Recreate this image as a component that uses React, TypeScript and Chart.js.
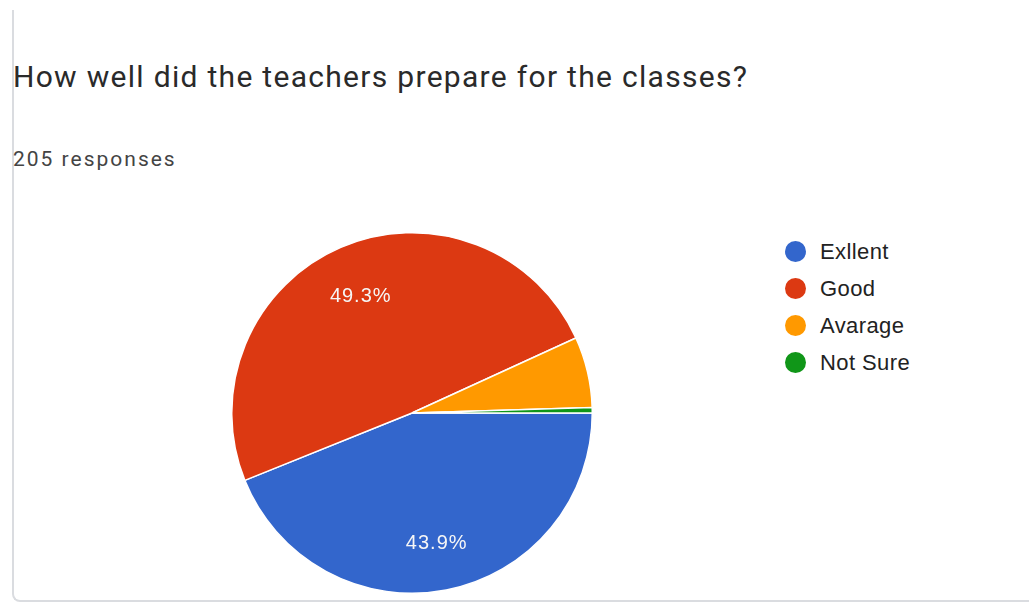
import React, { useEffect, useRef } from "react";
import { Chart, registerables } from "chart.js";

Chart.register(...registerables);

const TITLE = "How well did the teachers prepare for the classes?";
const SUBTITLE = "205 responses";
const categories = ["Exllent", "Good", "Avarage", "Not Sure"];
const counts = [90, 101, 13, 1];
const colors = ["#3366cc", "#dc3912", "#ff9900", "#109618"];

const labelPlugin = {
  id: "sliceLabels",
  afterDatasetsDraw(chart: any) {
    const ctx = chart.ctx;
    const meta = chart.getDatasetMeta(0);
    const data = chart.data.datasets[0].data as number[];
    const total = data.reduce((a, b) => a + b, 0);
    ctx.save();
    ctx.fillStyle = "#f6f6f6";
    ctx.font = "20px 'Liberation Sans', Arial, sans-serif";
    (ctx as any).letterSpacing = "1px";
    ctx.textAlign = "center";
    ctx.textBaseline = "middle";
    meta.data.forEach((arc: any, i: number) => {
      const pct = (data[i] / total) * 100;
      if (pct < 10) return;
      const mid = (arc.startAngle + arc.endAngle) / 2;
      const d = arc.outerRadius * 0.72;
      ctx.fillText(pct.toFixed(1) + "%", arc.x + Math.cos(mid) * d, arc.y + Math.sin(mid) * d + 3);
    });
    ctx.restore();
  },
};

export default function App() {
  const ref = useRef<HTMLCanvasElement>(null);
  useEffect(() => {
    if (!ref.current) return;
    const chart = new Chart(ref.current, {
      type: "pie",
      data: {
        labels: categories,
        datasets: [
          {
            data: counts,
            backgroundColor: colors,
            borderColor: "#ffffff",
            borderWidth: 1.5,
          },
        ],
      },
      options: {
        animation: false,
        responsive: false,
        rotation: 90,
        layout: { padding: 0 },
        plugins: { legend: { display: false }, tooltip: { enabled: false } },
      },
      plugins: [labelPlugin],
    });
    return () => chart.destroy();
  }, []);

  return (
    <div style={{ position: "absolute", left: 0, top: 0, width: 1029, height: 604, background: "#fff", overflow: "hidden" }}>
      <div
        style={{
          position: "absolute",
          left: 12,
          top: 10,
          width: 1040,
          height: 590,
          borderLeft: "2px solid #dadce0",
          borderBottom: "2px solid #dadce0",
          borderBottomLeftRadius: 8,
        }}
      />
      <div
        style={{
          position: "absolute",
          left: 13,
          top: 59,
          fontFamily: "Roboto, sans-serif",
          fontSize: 30,
          letterSpacing: "1.3px",
          color: "#2a2a2a",
          whiteSpace: "nowrap",
        }}
      >
        {TITLE}
      </div>
      <div
        style={{
          position: "absolute",
          left: 13,
          top: 147,
          fontFamily: "Roboto, sans-serif",
          fontSize: 21,
          letterSpacing: "2px",
          color: "#444",
          whiteSpace: "nowrap",
        }}
      >
        {SUBTITLE}
      </div>
      <canvas ref={ref} width={362} height={362} style={{ position: "absolute", left: 231, top: 232, width: 362, height: 362 }} />
      <div style={{ position: "absolute", left: 785, top: 233 }}>
        {categories.map((c, i) => (
          <div key={c} style={{ display: "flex", alignItems: "center", height: 37 }}>
            <span style={{ width: 21, height: 21, borderRadius: "50%", background: colors[i], display: "inline-block", marginRight: 14 }} />
            <span style={{ fontFamily: "'Liberation Sans', Arial, sans-serif", fontSize: 22, letterSpacing: "0.4px", color: "#222" }}>{c}</span>
          </div>
        ))}
      </div>
    </div>
  );
}
